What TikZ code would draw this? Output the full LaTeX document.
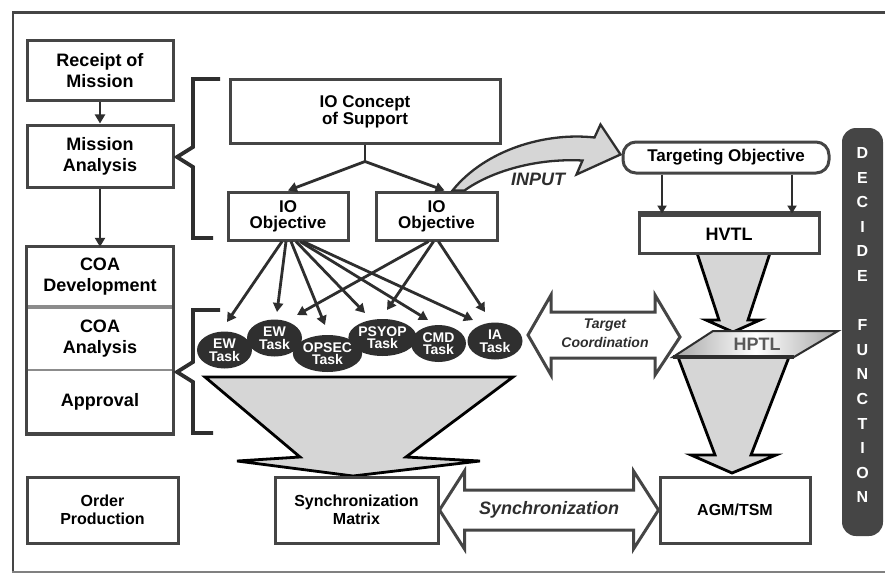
\documentclass[tikz,border=0pt]{standalone}
\usepackage{fontspec}
\setmainfont{Liberation Sans}
\usetikzlibrary{arrows.meta,shapes.geometric,calc}
\definecolor{ink}{HTML}{2E2E2E}
\definecolor{frame}{HTML}{454545}
\definecolor{funnelfill}{HTML}{D6D6D6}
\definecolor{taskfill}{HTML}{2F2F2F}
\definecolor{divider}{HTML}{8C8C8C}
\newcommand\setsz[2]{\fontsize{#1}{#2}\selectfont}

\begin{document}
\begin{tikzpicture}[x=1pt,y=-1pt,
  box/.style={draw=frame, line width=3pt, fill=white, align=center, inner sep=0pt, font=\bfseries\setsz{18}{21}},
  plain/.style={align=center, inner sep=0pt, font=\bfseries\setsz{18}{21}},
  arr/.style={draw=ink, line width=2.8pt, -{Triangle[length=9pt,width=10pt]}},
  thinarr/.style={draw=ink, line width=2pt, -{Triangle[length=8pt,width=9pt]}},
  task/.style={ellipse, fill=taskfill, text=white, inner sep=0pt, minimum width=55pt, minimum height=37pt, align=center, font=\bfseries\setsz{14}{12.5}},
  funnel/.style={fill=funnelfill, draw=black, line width=2.8pt, line join=miter},
  brace/.style={draw=ink, line width=3.8pt, line join=miter},
  fatarrow/.style={fill=white, draw=frame, line width=3pt, line join=miter},
]

\useasboundingbox (0,0) rectangle (885,575);
\fill[white] (0,0) rectangle (885,575);

% outer frame
\draw[frame, line width=3pt] (12,13) -- (890,13);
\draw[frame, line width=2pt] (13,12) -- (13,573);
\draw[gray, line width=1.5pt] (12,572) -- (890,572);

% grey funnels
\draw[funnel] (205,377) -- (513,377) -- (406,457) -- (480,461) -- (353,476) -- (237,461) -- (300,457) -- cycle;
\draw[funnel] (678,357) -- (789,357) -- (751,455) -- (776,455) -- (732,473) -- (691,455) -- (715,455) -- cycle;
\draw[funnel] (697,253) -- (770,253) -- (748,320) -- (760,320) -- (733,332) -- (706,320) -- (719,320) -- cycle;

% HPTL band
\shade[left color=gray!70, right color=gray!70, middle color=white] (713,331) -- (838,331) -- (794,357) -- (673,357) -- cycle;
\draw[ink, line width=2pt, line join=miter] (713,331) -- (838,331) -- (794,357) -- (673,357) -- cycle;
\draw[ink, line width=4pt] (673,357) -- (794,357);
\node[plain, text=gray!70!black] (hptl) at (757,344) {HPTL};

% left column
\node[box, minimum width=146, minimum height=60] (rec) at (100,71) {Receipt of\\Mission};
\node[box, minimum width=146, minimum height=62] (mis) at (100,156) {Mission\\Analysis};
\node[plain, minimum width=146, minimum height=60] (coadev) at (100,277) {COA\\Development};
\node[plain, minimum width=146, minimum height=63] (coaana) at (100,338.5) {COA\\Analysis};
\node[plain, minimum width=146, minimum height=63] (coaapp) at (100,401.5) {Approval};
\draw[divider, line width=4pt] (coadev.south west) -- (coadev.south east);
\draw[divider, line width=2.5pt] (coaana.south west) -- (coaana.south east);
\draw[frame, line width=3pt] (coadev.north west) rectangle (coaapp.south east);
\draw[frame, line width=4.5pt] ([shift={(-1.5,1)}]coaapp.south west) -- ([shift={(1.5,1)}]coaapp.south east);
\node[box, minimum width=151, minimum height=66, font=\bfseries\setsz{16}{18}] (ord) at (102.5,510) {Order\\Production};

\draw[arr] (rec) -- (mis);
\draw[arr] (mis) -- (coadev);

% braces
\draw[brace] (220,79) -- (193,79) -- (193,147) -- (177,157) -- (193,167) -- (193,238) -- (213,238);
\draw[brace] (220,310) -- (193,310) -- (193,362) -- (177,372) -- (193,382) -- (193,433) -- (213,433);

% IO concept and objectives
\node[box, minimum width=270, minimum height=63, font=\bfseries\setsz{17}{17}] (ioc) at (365,111.5) {IO Concept\\of Support};
\node[box, minimum width=120, minimum height=48, font=\bfseries\setsz{17}{16}] (lobj) at (288,216) {IO\\Objective};
\node[box, minimum width=121, minimum height=48, font=\bfseries\setsz{17}{16}] (robj) at (436.5,216) {IO\\Objective};
\draw[draw=ink, line width=2.8pt] (ioc.south) -- ++(0,17) coordinate (split);
\draw[arr] (split) -- (lobj.north);
\draw[arr] (split) -- ([shift={(8,0)}]robj.north);

% tasks
\node[task] (ew1) at (224.5,350) {EW\\Task};
\node[task] (ew2) at (274.5,338) {EW\\Task};
\node[task] (opsec) at (327.5,353.5) {OPSEC\\Task};
\node[task] (psyop) at (382.5,337.5) {PSYOP\\Task};
\node[task] (cmd) at (438.5,343.5) {CMD\\Task};
\node[task] (ia) at (495,341) {IA\\Task};

\foreach \t/\sx/\dx/\dy in {ew1/-6/2.5/-28, ew2/-2/2.5/-26, opsec/3/-2.5/-28.5, psyop/8/-17.5/-24.5, cmd/12/-10.5/-23.5, ia/15/-22/-21}
  \draw[arr] ([shift={(\sx,0)}]lobj.south) -- ([shift={(\dx,\dy)}]\t.center);
\foreach \t/\sx/\dx/\dy in {opsec/-8/-30.5/-38.5, psyop/-3/4.5/-27.5, ia/2/-10/-29}
  \draw[arr] ([shift={(\sx,0)}]robj.south) -- ([shift={(\dx,\dy)}]\t.center);

% targeting side
\node[box, rounded corners=13pt, minimum width=206, minimum height=31, font=\bfseries\setsz{17}{17}] (tobj) at (726,157.5) {Targeting Objective};
\node[box, minimum width=180, minimum height=38] (hvtl) at (729,234) {HVTL};
\draw[frame, line width=4.5pt] (hvtl.north west) -- (hvtl.north east);
\draw[thinarr] ([shift={(-64,0)}]tobj.south) -- ([shift={(-67,0)}]hvtl.north);
\draw[thinarr] ([shift={(66,0)}]tobj.south) -- ([shift={(63,0)}]hvtl.north);

% INPUT arrow
\draw[fill=funnelfill, draw=ink, line width=2.3pt, line join=miter]
  ([shift={(16,0)}]robj.north) .. controls (485,150) and (545,132) .. ($(tobj.west)+(-27,-20)$)
  -- ($(tobj.west)+(-21,-33)$) -- ($(tobj.west)+(-1,-3)$) -- ($(tobj.west)+(-45,17)$) -- ($(tobj.west)+(-39,3)$)
  .. controls (535,158) and (490,172) .. ([shift={(28,0)}]robj.north) -- cycle;
\node[font=\bfseries\itshape\setsz{18}{18}, text=ink, inner sep=0pt] (inputlbl) at (538,179) {INPUT};

% target coordination
\draw[fatarrow] (528,335) -- (551,295) -- (551,312) -- (655,312) -- (655,295) -- (680,337) -- (655,375) -- (655,358) -- (551,358) -- (551,375) -- cycle;
\node[font=\bfseries\itshape\setsz{14}{19}, text=ink, align=center, inner sep=0pt] (tclbl) at (605,333) {Target\\Coordination};

% bottom row
\node[box, minimum width=163, minimum height=66, font=\bfseries\setsz{16}{18}] (syncm) at (356.5,510) {Synchronization\\Matrix};
\node[box, minimum width=150, minimum height=66, font=\bfseries\setsz{16}{18}] (agm) at (735,510) {AGM/TSM};
\draw[fatarrow] (syncm.east) -- ++(25,-39) -- ++(0,19) -- ($(agm.west)+(-25,-20)$) -- ++(0,-19) -- (agm.west)
  -- ++(-25,39) -- ++(0,-19) -- ($(syncm.east)+(25,20)$) -- ++(0,19) -- cycle;
\node[font=\bfseries\itshape\setsz{18}{18}, text=ink, inner sep=0pt] (synclbl) at ($(syncm.east)!0.5!(agm.west)$) {Synchronization};

% decide function bar
\node[fill=frame, rounded corners=14pt, minimum width=41, minimum height=408, inner sep=0pt] (decide) at (862.5,332) {};
\foreach \L [count=\i from 0] in {D,E,C,I,D,E,{},F,U,N,C,T,I,O,N}
  \node[font=\bfseries\setsz{16}{16}, text=white, inner sep=0pt] (df\i) at (862.5,{153+\i*24.6}) {\L};

\end{tikzpicture}
\end{document}
